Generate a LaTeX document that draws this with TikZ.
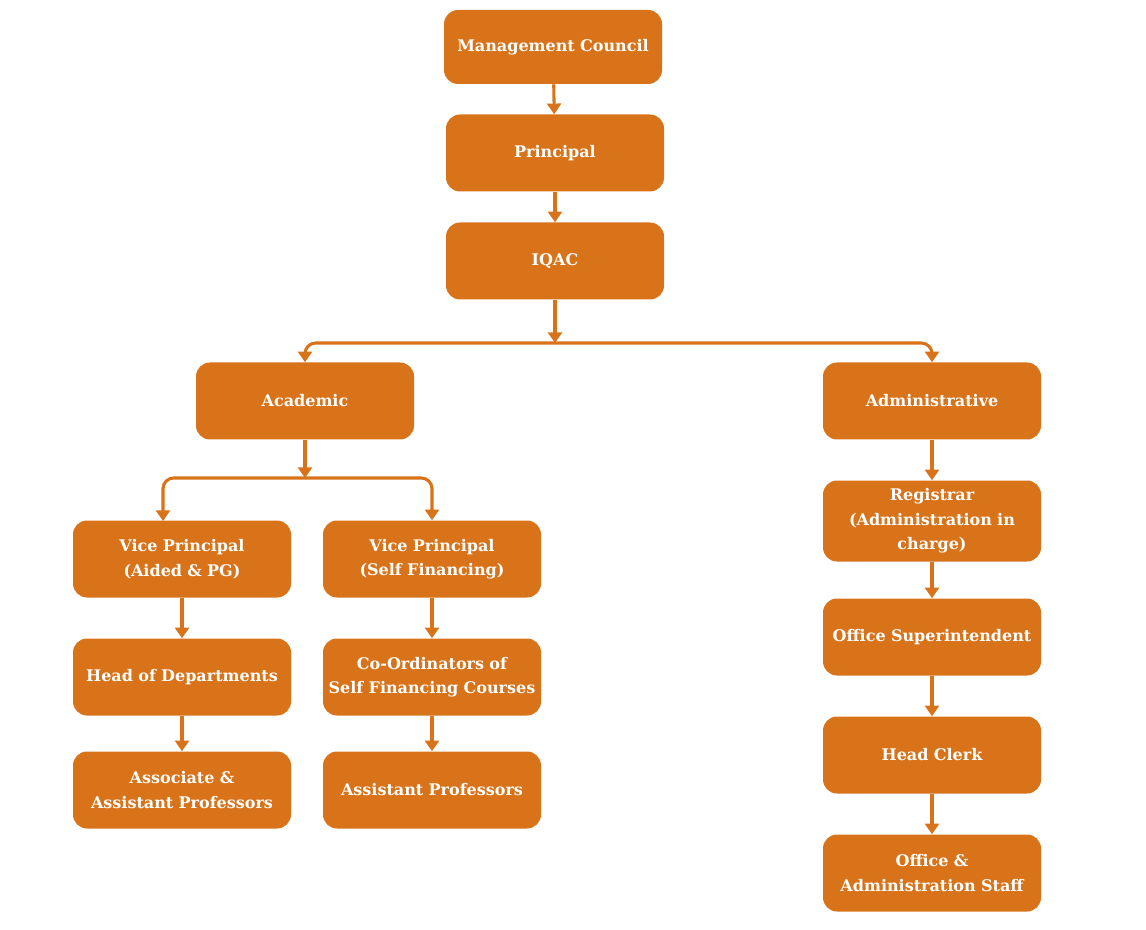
\documentclass[tikz,border=0pt]{standalone}
\usepackage{fontspec}
\setmainfont{DejaVu Serif}
\usetikzlibrary{arrows.meta}
\definecolor{orgbox}{RGB}{217,115,26}
\begin{document}
\begin{tikzpicture}[x=0.75pt,y=-0.75pt,
      box/.style={fill=orgbox,rounded corners=10.5pt,minimum width=163.5pt,
        minimum height=57.75pt,inner sep=0pt,text width=160pt,align=center,
        text=white,font=\bfseries\fontsize{12}{18.4}\selectfont},
      link/.style={draw=orgbox,line width=2.3pt,rounded corners=8pt,
        -{Triangle[width=10.5pt,length=8pt]}}]
      \useasboundingbox (0,0) rectangle (1146,930);
      \path (553,47) node[box,minimum height=55.5pt] (council) {Management Council};
      \path (555,153) node[box] (principal) {Principal};
      \path (555,261) node[box] (iqac) {IQAC};
      \path (305,401) node[box] (academic) {Academic};
      \path (932,401) node[box] (admin) {Administrative};
      \path (182,559) node[box] (vpaided) {Vice Principal\\(Aided \& PG)};
      \path (432,559) node[box] (vpself) {Vice Principal\\(Self Financing)};
      \path (182,677) node[box] (hod) {Head of Departments};
      \path (432,677) node[box] (coord) {Co-Ordinators of\\Self Financing Courses};
      \path (182,790) node[box] (assoc) {Associate \&\\Assistant Professors};
      \path (432,790) node[box] (asst) {Assistant Professors};
      \path (932,521) node[box,minimum height=60.75pt] (registrar) {Registrar\\(Administration in\\charge)};
      \path (932,637) node[box] (super) {Office Superintendent};
      \path (932,755) node[box] (clerk) {Head Clerk};
      \path (932,873) node[box] (staff) {Office \&\\Administration Staff};
      \coordinate (forktop) at (555,343);
      \coordinate (forkacad) at (305,478);
      \coordinate (vpaidedtop) at (163,521);
      \draw[link] (council) -- (principal);
      \draw[link] (principal) -- (iqac);
      \draw[link] (iqac) -- (forktop);
      \draw[link] (forktop) -| (academic.north);
      \draw[link] (forktop) -| (admin.north);
      \draw[link] (academic) -- (forkacad);
      \draw[link] (forkacad) -| (vpaidedtop);
      \draw[link] (forkacad) -| (vpself.north);
      \draw[link] (vpaided) -- (hod);
      \draw[link] (hod) -- (assoc);
      \draw[link] (vpself) -- (coord);
      \draw[link] (coord) -- (asst);
      \draw[link] (admin) -- (registrar);
      \draw[link] (registrar) -- (super);
      \draw[link] (super) -- (clerk);
      \draw[link] (clerk) -- (staff);
     \end{tikzpicture}
\end{document}
